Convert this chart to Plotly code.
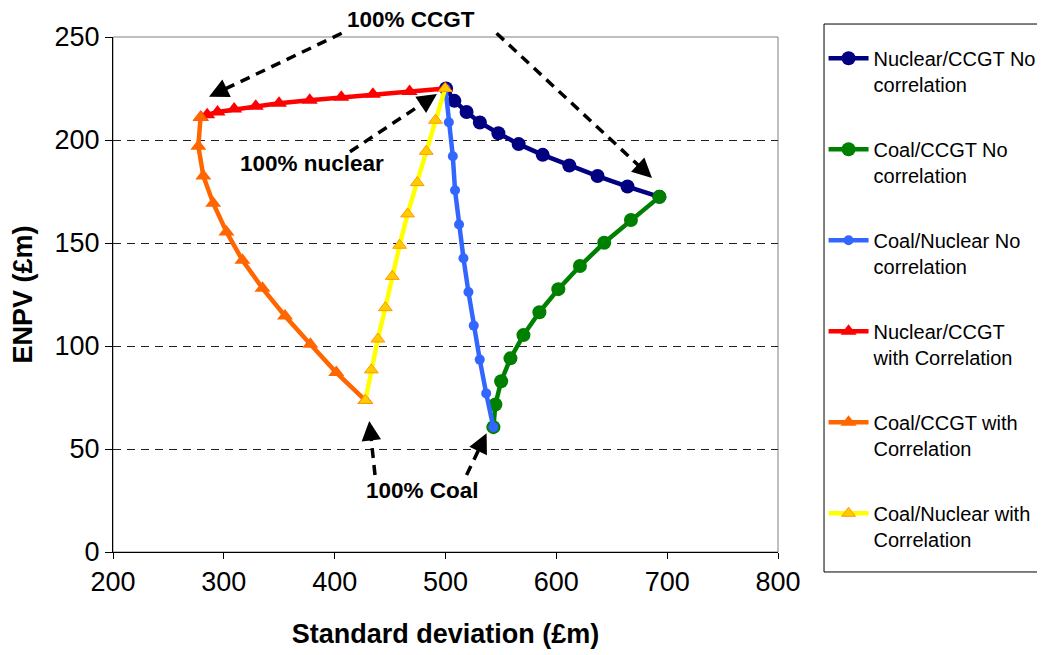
import plotly.graph_objects as go

# ---- Data ----
nuc_ccgt_nc_x = [500.5, 508.0, 519.0, 531.0, 547.7, 566.0, 587.7, 611.7, 637.2, 664.2, 693.0]
nuc_ccgt_nc_y = [225.0, 219.0, 213.6, 208.5, 203.3, 198.0, 192.8, 187.6, 182.5, 177.4, 172.4]

coal_ccgt_nc_x = [693.0, 667.3, 643.2, 621.3, 601.8, 584.7, 570.3, 558.6, 550.2, 545.0, 543.2]
coal_ccgt_nc_y = [172.4, 161.2, 150.1, 138.8, 127.6, 116.4, 105.3, 94.0, 82.9, 71.6, 60.6]

coal_nuc_nc_x = [500.0, 503.0, 506.6, 508.6, 512.2, 516.2, 520.7, 525.5, 530.9, 536.7, 543.2]
coal_nuc_nc_y = [225.0, 208.6, 192.1, 175.6, 159.0, 142.6, 126.2, 109.9, 93.4, 77.0, 60.6]

nuc_ccgt_wc_x = [499.7, 467.6, 434.5, 406.0, 377.5, 349.8, 328.8, 309.3, 294.3, 285.0, 279.3]
nuc_ccgt_wc_y = [225.0, 223.6, 222.2, 220.8, 219.3, 217.8, 216.4, 215.0, 213.6, 212.2, 211.0]

coal_ccgt_wc_x = [279.0, 277.0, 281.5, 290.4, 302.4, 316.8, 334.9, 355.2, 378.1, 401.5, 427.7]
coal_ccgt_wc_y = [211.0, 197.0, 182.5, 169.3, 155.4, 141.6, 128.0, 114.6, 100.8, 87.1, 73.6]

coal_nuc_wc_x = [427.7, 433.1, 439.0, 445.7, 452.0, 458.6, 465.8, 474.5, 482.6, 491.0, 499.7]
coal_nuc_wc_y = [73.6, 88.4, 103.4, 118.6, 133.8, 148.9, 164.1, 179.3, 194.5, 209.6, 225.0]

series_names = [
    "Nuclear/CCGT No<br>correlation",
    "Coal/CCGT No<br>correlation",
    "Coal/Nuclear No<br>correlation",
    "Nuclear/CCGT<br>with Correlation",
    "Coal/CCGT with<br>Correlation",
    "Coal/Nuclear with<br>Correlation",
]

x_ticks = [200, 300, 400, 500, 600, 700, 800]
y_ticks = [0, 50, 100, 150, 200, 250]

FONT = "Liberation Sans, Arial, sans-serif"
X0, X1, Y0, Y1 = 200, 800, 0, 250

def px(x):
    return (x - X0) / (X1 - X0)

def py(y):
    return (y - Y0) / (Y1 - Y0)

fig = go.Figure()

styles = [
    dict(x=nuc_ccgt_nc_x, y=nuc_ccgt_nc_y, lc="#000080", mc="#000080", sym="circle", ms=14, mlc="#000080", mlw=0),
    dict(x=coal_ccgt_nc_x, y=coal_ccgt_nc_y, lc="#008000", mc="#008000", sym="circle", ms=14, mlc="#008000", mlw=0),
    dict(x=coal_nuc_nc_x, y=coal_nuc_nc_y, lc="#3366FF", mc="#3366FF", sym="circle", ms=10, mlc="#3366FF", mlw=0),
    dict(x=nuc_ccgt_wc_x, y=nuc_ccgt_wc_y, lc="#FF0000", mc="#FF0000", sym="triangle-up", ms=14, mlc="#FF0000", mlw=0),
    dict(x=coal_ccgt_wc_x, y=coal_ccgt_wc_y, lc="#FF6600", mc="#FF6600", sym="triangle-up", ms=14, mlc="#FF6600", mlw=0),
    dict(x=coal_nuc_wc_x, y=coal_nuc_wc_y, lc="#FFFF00", mc="#FFCC00", sym="triangle-up", ms=12, mlc="#FF9900", mlw=1),
]

for i, (s, name) in enumerate(zip(styles, series_names)):
    fig.add_trace(go.Scatter(
        x=s["x"], y=s["y"], name=name, mode="lines+markers",
        legendgroup=f"g{i}",
        line=dict(color=s["lc"], width=4.5),
        marker=dict(symbol=s["sym"], size=s["ms"], color=s["mc"],
                    line=dict(color=s["mlc"], width=s["mlw"])),
    ))

shapes = []
# plot-area border (grey) and legend box
shapes.append(dict(type="rect", xref="paper", yref="paper", x0=0, y0=0, x1=1, y1=1,
                   line=dict(color="#808080", width=1), layer="below"))
shapes.append(dict(type="rect", xref="paper", yref="paper", x0=1.0692, x1=1.3955,
                   y0=-0.0388, y1=1.0252, line=dict(color="black", width=1)))

# dashed callout arrows: (start x, start y, tip x, tip y) in data units
arrows = [
    (406.3, 251.8, 286.6, 221.0),
    (546.1, 251.8, 686.3, 181.6),
    (413.8, 194.3, 492.3, 222.3),
    (436.4, 37.4, 431.2, 63.6),
    (519.0, 37.4, 537.1, 57.6),
]
W, H = 665.0, 515.0
annotations = []
for (sx, sy, tx, ty) in arrows:
    dxp = (px(tx) - px(sx)) * W
    dyp = -(py(ty) - py(sy)) * H
    L = (dxp ** 2 + dyp ** 2) ** 0.5
    ux, uy = dxp / L, dyp / L
    ex = px(tx) - ux * 9 / W
    ey = py(ty) + uy * 9 / H
    shapes.append(dict(type="line", xref="paper", yref="paper",
                       x0=px(sx), y0=py(sy), x1=ex, y1=ey,
                       line=dict(color="black", width=3.5, dash="10px,7px")))
    annotations.append(dict(x=px(tx), y=py(ty), xref="paper", yref="paper",
                            text="", showarrow=True, arrowhead=2, arrowsize=1.3,
                            arrowwidth=3, arrowcolor="black",
                            ax=-ux * 16, ay=-uy * 16))

labels = [("100% CCGT", 468.5, 258.3), ("100% nuclear", 379.6, 188.7), ("100% Coal", 479.4, 29.8)]
for t, lx, ly in labels:
    annotations.append(dict(x=px(lx), y=py(ly), xref="paper", yref="paper", text=f"<b>{t}</b>",
                            showarrow=False, font=dict(family=FONT, size=22.5, color="black"),
                            xanchor="center", yanchor="middle"))

# page body has an 8px margin, so the figure is 8px smaller and offset
fig.update_layout(
    width=1037, height=647,
    margin=dict(l=105, r=267, t=29, b=103, autoexpand=False),
    paper_bgcolor="white", plot_bgcolor="white",
    font=dict(family=FONT, color="black"),
    shapes=shapes, annotations=annotations,
    legend=dict(x=1.0685, xanchor="left", y=0.9965, yanchor="top", valign="top",
                font=dict(family=FONT, size=20, color="black"),
                bgcolor="rgba(0,0,0,0)", borderwidth=0, maxheight=640,
                tracegroupgap=36, itemwidth=40),
    xaxis=dict(range=[X0, X1], tickvals=x_ticks, showgrid=False, zeroline=False,
               showline=True, linecolor="black", linewidth=1, automargin=False,
               ticks="outside", ticklen=6, tickcolor="black",
               tickfont=dict(family=FONT, size=27, color="black"),
               title=dict(text="<b>Standard deviation (£m)</b>",
                          font=dict(family=FONT, size=27, color="black"), standoff=27)),
    yaxis=dict(range=[Y0, Y1], tickvals=y_ticks, showgrid=True, gridcolor="#202020",
               griddash="8px,6px", gridwidth=1, zeroline=False, automargin=False,
               showline=True, linecolor="black", linewidth=1,
               ticks="outside", ticklen=7, tickcolor="black",
               tickfont=dict(family=FONT, size=27, color="black"),
               title=dict(text="<b>ENPV (£m)</b>",
                          font=dict(family=FONT, size=27, color="black"), standoff=17)),
)

fig.write_html("out.html")
